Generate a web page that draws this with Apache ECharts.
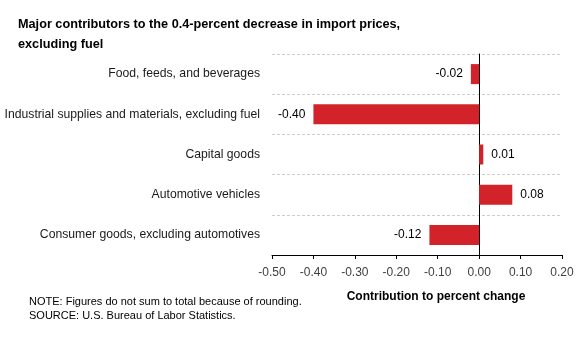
<!DOCTYPE html>
<html><head><meta charset="utf-8">
<script src="https://cdn.jsdelivr.net/npm/echarts@6/dist/echarts.min.js"></script>
<style>html,body{margin:0;padding:0;background:#fff}#c{width:580px;height:338px}</style>
</head><body><div id="c"></div>
<script>
const categories = ['Food, feeds, and beverages','Industrial supplies and materials, excluding fuel','Capital goods','Automotive vehicles','Consumer goods, excluding automotives'];
const values = [-0.02, -0.40, 0.01, 0.08, -0.12];
const xMin = -0.5, xMax = 0.2, xStep = 0.1;
const titleText = 'Major contributors to the 0.4-percent decrease in import prices,\nexcluding fuel';
const axisName = 'Contribution to percent change';
const noteText = 'NOTE: Figures do not sum to total because of rounding.\nSOURCE: U.S. Bureau of Labor Statistics.';

const FONT = "'Liberation Sans',sans-serif";
const chart = echarts.init(document.getElementById('c'), null, {renderer:'canvas'});
chart.setOption({
  animation:false,
  title:[
    {text:titleText, left:18, top:14, padding:0, textStyle:{fontFamily:FONT, fontWeight:'bold', fontSize:12.7, color:'#000', lineHeight:20}},
    {text:axisName, left:436, top:291, padding:0, textAlign:'center', textStyle:{fontFamily:FONT, fontWeight:'bold', fontSize:12, color:'#000'}},
    {text:noteText, left:29, top:295, padding:0, textStyle:{fontFamily:FONT, fontWeight:'normal', fontSize:11, color:'#000', lineHeight:14}}
  ],
  grid:{left:272, right:18, top:54, bottom:83, containLabel:false},
  xAxis:{type:'value', min:xMin, max:xMax, interval:xStep,
    axisLine:{show:true, lineStyle:{color:'#000', width:1}},
    axisTick:{show:true, length:4, lineStyle:{color:'#000'}},
    axisLabel:{color:'#404040', fontFamily:FONT, fontSize:12, margin:12, formatter:v=>v.toFixed(2)},
    splitLine:{show:false}},
  yAxis:{type:'category', inverse:true, data:categories,
    axisLine:{show:true, onZero:true, lineStyle:{color:'#000', width:1}},
    axisTick:{show:false},
    axisLabel:{color:'#1a1a1a', fontFamily:FONT, fontSize:12.2, margin:12},
    splitLine:{show:true, lineStyle:{color:'#cccccc', type:[3,2], width:1}}},
  series:[{type:'bar', barWidth:20,
    itemStyle:{color:'#d2232a'},
    data:values.map(v=>({value:v, label:{position: v<0?'left':'right'}})),
    label:{show:true, distance:8, fontFamily:FONT, fontSize:12, color:'#000', formatter:p=>p.value.toFixed(2)}}]
});
</script></body></html>
